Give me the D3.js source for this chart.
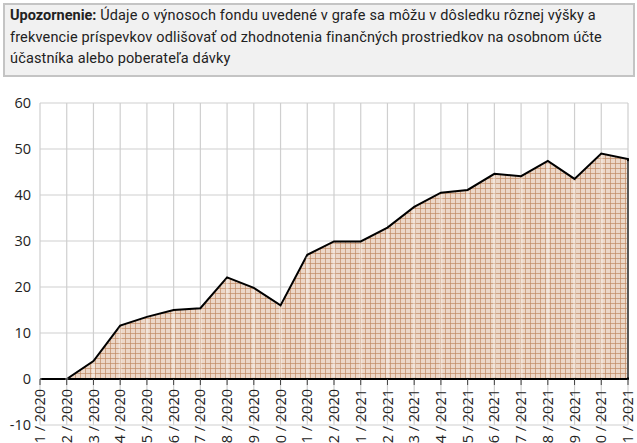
<!DOCTYPE html>
<html>
<head>
<meta charset="utf-8">
<script src="https://cdn.jsdelivr.net/npm/d3@7"></script>
<style>
  body { margin: 0; background: #fff; }
  #note {
    position: absolute; left: 3px; top: 3px; width: 623px; height: 70px;
    background: #f1f1f1; border: 2px solid #c4c4c4;
    font-family: Roboto, sans-serif; font-size: 14.5px; line-height: 21.5px;
    letter-spacing: 0.15px;
    color: #222; padding: 0 0 0 5px; white-space: nowrap;
  }
  #note b { font-weight: 700; letter-spacing: 0; }
  #wrapper { position: absolute; left: 0; top: 0; }
</style>
</head>
<body>
<div id="wrapper"></div>
<div id="note"><b>Upozornenie:</b> Údaje o výnosoch fondu uvedené v grafe sa môžu v dôsledku rôznej výšky a<br>frekvencie príspevkov odlišovať od zhodnotenia finančných prostriedkov na osobnom účte<br>účastníka alebo poberateľa dávky</div>
<script>
// months on x axis
const months = [
  "1 / 2020", "2 / 2020", "3 / 2020", "4 / 2020", "5 / 2020", "6 / 2020",
  "7 / 2020", "8 / 2020", "9 / 2020", "10 / 2020", "11 / 2020", "12 / 2020",
  "1 / 2021", "2 / 2021", "3 / 2021", "4 / 2021", "5 / 2021", "6 / 2021",
  "7 / 2021", "8 / 2021", "9 / 2021", "10 / 2021", "11 / 2021"
]
// fund return values
const values = [
  0, 0, 3.9, 11.6, 13.5, 15, 15.4, 22.1, 19.8, 16, 27, 29.9,
  29.9, 32.9, 37.4, 40.5, 41.1, 44.6, 44.1, 47.4, 43.5, 49, 47.8
]
const yTicks = [-10, 0, 10, 20, 30, 40, 50, 60]

const dataset = months.map((m, i) => ({ month: m, value: values[i] }))

let dimensions = {
  width: 637,
  height: 443,
  margin: { top: 103, right: 9, bottom: 18, left: 40 }
}
dimensions.boundedWidth = dimensions.width - dimensions.margin.left - dimensions.margin.right
dimensions.boundedHeight = dimensions.height - dimensions.margin.top - dimensions.margin.bottom

const wrapper = d3.select("#wrapper")
  .append("svg")
    .attr("width", dimensions.width)
    .attr("height", dimensions.height)

// crosshatch pattern for the area
const defs = wrapper.append("defs")
const pattern = defs.append("pattern")
    .attr("id", "hatch")
    .attr("patternUnits", "userSpaceOnUse")
    .attr("width", 5)
    .attr("height", 5)
pattern.append("rect")
    .attr("width", 5).attr("height", 5)
    .attr("fill", "#ecd7c8")
pattern.append("path")
    .attr("d", "M0,0.5H5M0.5,0V5")
    .attr("stroke", "#c08a64")
    .attr("stroke-width", 0.7)
    .attr("fill", "none")

const bounds = wrapper.append("g")
    .attr("transform", `translate(${dimensions.margin.left},${dimensions.margin.top})`)

const xScale = d3.scalePoint()
    .domain(months)
    .range([0, dimensions.boundedWidth])

const yScale = d3.scaleLinear()
    .domain([-10, 60])
    .range([dimensions.boundedHeight, 0])

// grid
const grid = bounds.append("g")
grid.selectAll(".hg")
    .data(yTicks)
  .enter().append("line")
    .attr("x1", 0).attr("x2", dimensions.boundedWidth)
    .attr("y1", d => yScale(d)).attr("y2", d => yScale(d))
    .attr("stroke", "#cfcfcf")
    .attr("stroke-width", 1.2)
grid.selectAll(".vg")
    .data(months)
  .enter().append("line")
    .attr("x1", d => xScale(d)).attr("x2", d => xScale(d))
    .attr("y1", 0).attr("y2", dimensions.boundedHeight)
    .attr("stroke", "#cfcfcf")
    .attr("stroke-width", 1.2)

// area
const areaGenerator = d3.area()
    .x(d => xScale(d.month))
    .y0(yScale(0))
    .y1(d => yScale(d.value))

bounds.append("path")
    .datum(dataset)
    .attr("d", d => areaGenerator(d) + "Z")
    .attr("fill", "url(#hatch)")
    .attr("stroke", "#000")
    .attr("stroke-width", 2)
    .attr("stroke-linejoin", "miter")

// gridlines faintly over the fill
const overGrid = bounds.append("g")
overGrid.selectAll("line")
    .data(months)
  .enter().append("line")
    .attr("x1", d => xScale(d)).attr("x2", d => xScale(d))
    .attr("y1", d => yScale(dataset.find(e => e.month === d).value) + 2)
    .attr("y2", yScale(0) - 1.5)
    .attr("stroke", "rgba(255,255,255,0.35)")
    .attr("stroke-width", 3)

// y axis labels
bounds.append("g")
  .selectAll("text")
    .data(yTicks)
  .enter().append("text")
    .attr("x", -9)
    .attr("y", d => yScale(d))
    .attr("dy", "0.35em")
    .attr("text-anchor", "end")
    .attr("fill", "#222")
    .style("font-family", "'Open Sans', sans-serif")
    .style("font-size", "14.5px")
    .text(d => d)

// x axis ticks and labels
const xAxis = bounds.append("g")
    .attr("transform", `translate(0,${yScale(0)})`)
xAxis.selectAll("line")
    .data(months)
  .enter().append("line")
    .attr("x1", d => xScale(d)).attr("x2", d => xScale(d))
    .attr("y1", 0).attr("y2", 6)
    .attr("stroke", "#444")
    .attr("stroke-width", 1)
xAxis.selectAll("text")
    .data(months)
  .enter().append("text")
    .attr("transform", d => `translate(${xScale(d)},10) rotate(-90)`)
    .attr("dy", "0.35em")
    .attr("text-anchor", "end")
    .attr("fill", "#222")
    .style("font-family", "'Open Sans', sans-serif")
    .style("font-size", "14.5px")
    .text(d => d)
</script>
</body>
</html>
